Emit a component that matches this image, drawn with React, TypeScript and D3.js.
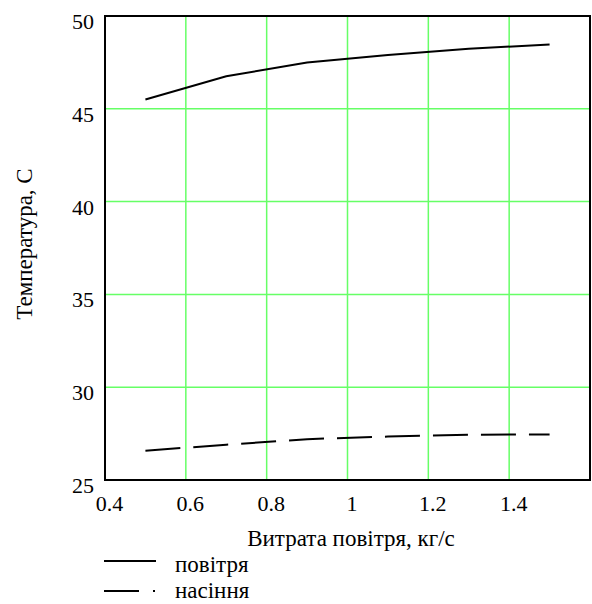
import React from "react";
import * as d3 from "d3";

const xFlow = [0.5, 0.7, 0.9, 1.1, 1.3, 1.5];
const airTemp = [45.5, 46.75, 47.5, 47.9, 48.23, 48.47];
const seedTemp = [26.58, 26.9, 27.2, 27.34, 27.44, 27.45];
const xTicks = [0.4, 0.6, 0.8, 1, 1.2, 1.4];
const yTicks = [25, 30, 35, 40, 45, 50];
const xTitle = "Витрата повітря, кг/с";
const yTitle = "Температура, С";
const legendLabels = ["повітря", "насіння"];

const W = 592;
const H = 604;
const M = { left: 105, top: 16, right: 590, bottom: 480 };
const FONT = '"Liberation Serif", "Times New Roman", Tinos, "DejaVu Serif", serif';

export default function App() {
  const x = d3.scaleLinear().domain([0.4, 1.6]).range([M.left, M.right]);
  const y = d3.scaleLinear().domain([25, 50]).range([M.bottom, M.top]);
  const line = d3
    .line<number>()
    .x((_, i) => x(xFlow[i]))
    .y((d) => y(d));
  const grid = "#66ff66";
  const txt = { fontFamily: FONT };
  return (
    <svg
      width={W}
      height={H}
      style={{ position: "absolute", left: 0, top: 0, background: "#fff" }}
    >
      {xTicks.slice(1).map((t) => (
        <line key={"gx" + t} x1={x(t)} x2={x(t)} y1={M.top} y2={M.bottom} stroke={grid} strokeWidth={1.5} />
      ))}
      {yTicks.slice(1, -1).map((t) => (
        <line key={"gy" + t} x1={M.left} x2={M.right} y1={y(t)} y2={y(t)} stroke={grid} strokeWidth={1.5} />
      ))}
      <rect
        x={M.left}
        y={M.top}
        width={M.right - M.left}
        height={M.bottom - M.top}
        fill="none"
        stroke="#000"
        strokeWidth={2}
      />
      <path d={line(airTemp) || ""} fill="none" stroke="#000" strokeWidth={2} />
      <path d={line(seedTemp) || ""} fill="none" stroke="#000" strokeWidth={2} strokeDasharray="35 13" />
      {yTicks.map((t) => (
        <text key={"ty" + t} x={M.left - 11} y={y(t) + 13} textAnchor="end" style={txt} fontSize={22}>
          {t}
        </text>
      ))}
      {xTicks.map((t) => (
        <text key={"tx" + t} x={x(t) + 4.5} y={M.bottom + 31} textAnchor="middle" style={txt} fontSize={22}>
          {t}
        </text>
      ))}
      <text x={351} y={546} textAnchor="middle" style={txt} fontSize={23}>
        {xTitle}
      </text>
      <text
        transform={`translate(32, 244) rotate(-90)`}
        textAnchor="middle"
        style={txt}
        fontSize={23}
      >
        {yTitle}
      </text>
      <line x1={104} x2={156} y1={561} y2={561} stroke="#000" strokeWidth={2} />
      <text x={175} y={572} style={txt} fontSize={23}>
        {legendLabels[0]}
      </text>
      <line x1={104} x2={139} y1={591} y2={591} stroke="#000" strokeWidth={2} />
      <line x1={153} x2={155} y1={591} y2={591} stroke="#000" strokeWidth={2} />
      <text x={175} y={598} style={txt} fontSize={23}>
        {legendLabels[1]}
      </text>
    </svg>
  );
}
